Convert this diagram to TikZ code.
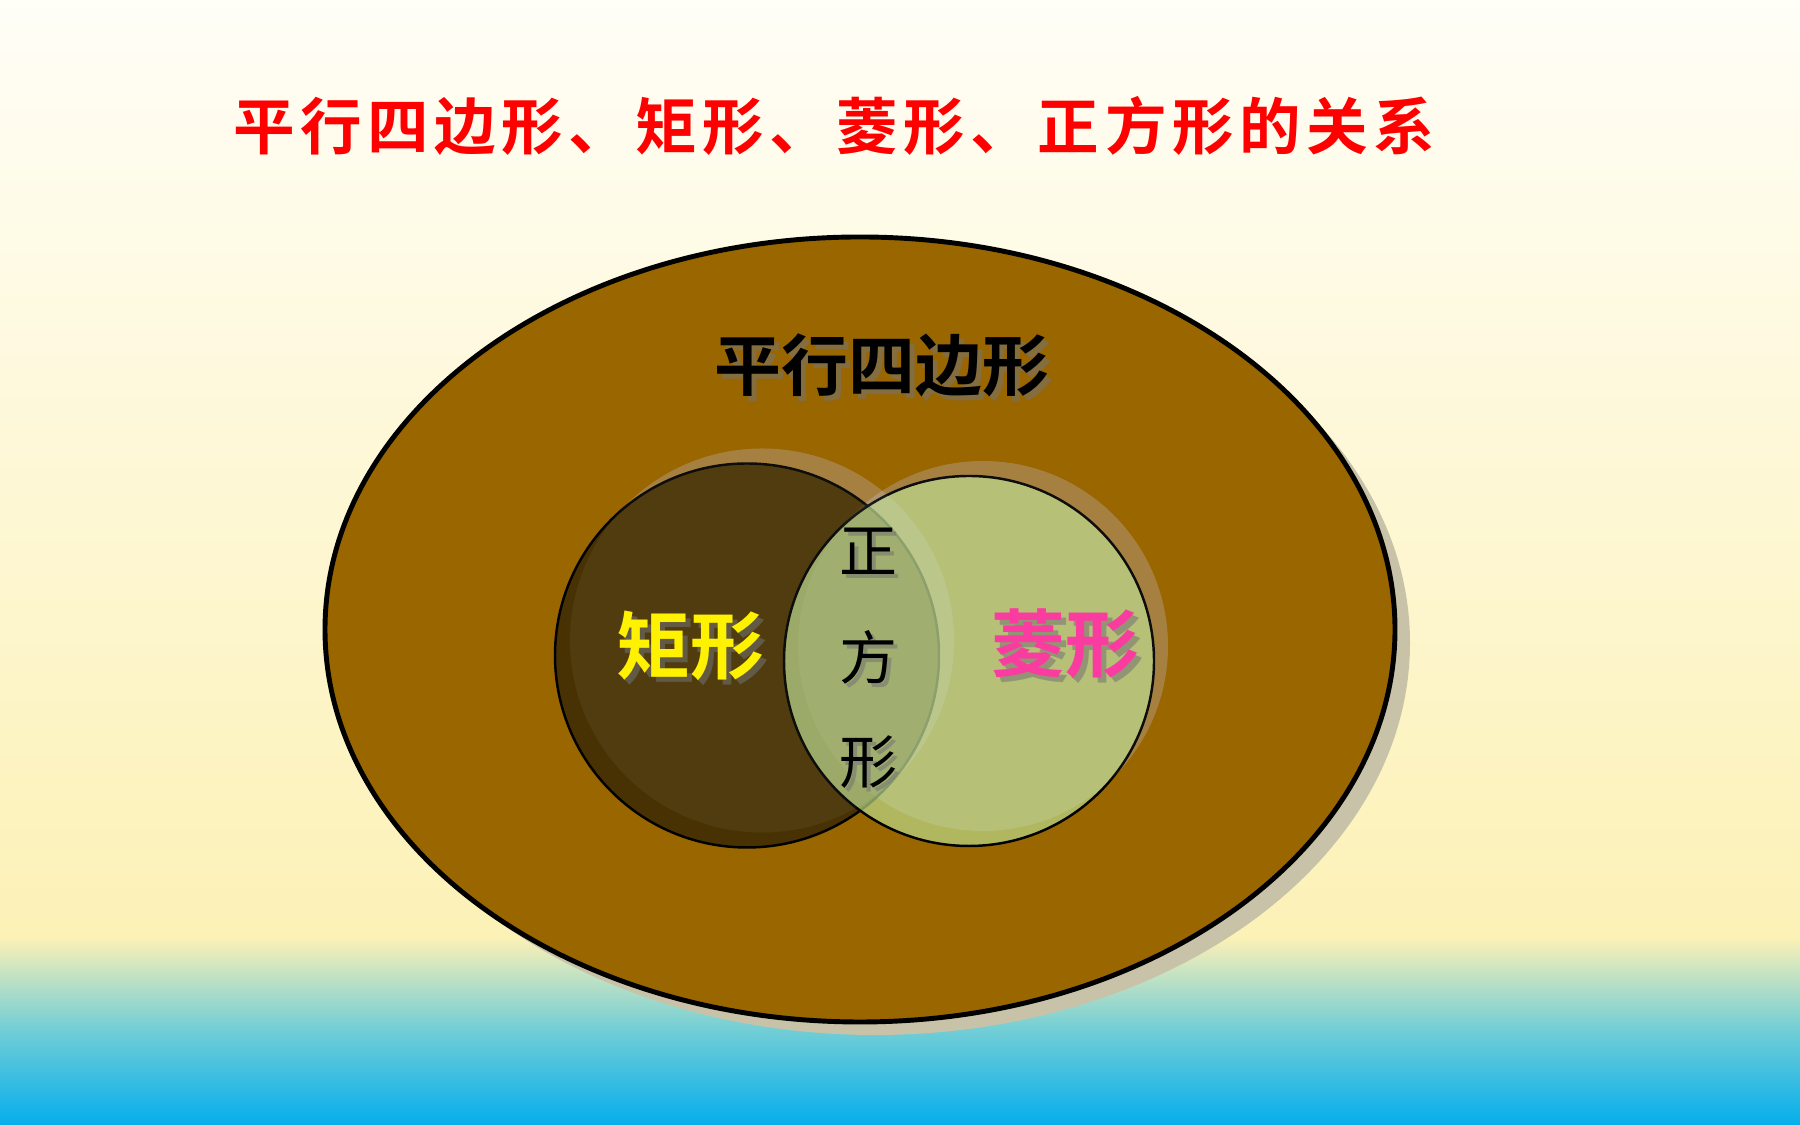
\documentclass[tikz,border=0pt]{standalone}
\usepackage{fontspec}
\newfontfamily\cjk{Noto Sans CJK SC}[BoldFont={Noto Sans CJK SC Bold}]

\definecolor{bgtop}{RGB}{255,254,247}
\definecolor{bgmid}{RGB}{252,241,182}
\definecolor{bgsea}{RGB}{112,205,214}
\definecolor{bgbottom}{RGB}{5,174,236}
\definecolor{pgramcolor}{RGB}{153,102,0}
\definecolor{rectcolor}{RGB}{72,50,4}
\definecolor{rhombcolor}{RGB}{188,222,140}
\definecolor{halocolor}{RGB}{190,195,250}
\definecolor{shadowcolor}{RGB}{200,195,168}
\definecolor{titlecolor}{RGB}{255,0,0}
\definecolor{pinkcolor}{RGB}{250,60,160}

\begin{document}
\begin{tikzpicture}[x=0.01cm,y=0.01cm,
    word/.style={inner sep=0pt, font=\cjk\bfseries},
    wordshadow/.style={word, text=black!55, text opacity=0.55}]
        % Background
        \useasboundingbox (0,0) rectangle (1800,1125);
        \shade[top color=bgtop, bottom color=bgmid] (0,187) rectangle (1800,1125);
        \shade[top color=bgmid, bottom color=bgbottom, middle color=bgsea] (0,0) rectangle (1800,188);

        % Title
        \node[word, text=titlecolor, font=\cjk\bfseries\fontsize{17.5pt}{17.5pt}\selectfont\addfontfeature{LetterSpace=9}] (title) at (834,999) {平行四边形、矩形、菱形、正方形的关系};

        % Parallelogram ellipse with its shadow
        \fill[shadowcolor] (875,482) ellipse [x radius=535, y radius=392];
        \draw[line width=1.4pt, fill=pgramcolor] (860,495.5) ellipse [x radius=535, y radius=392.5];

        % Soft rims behind the two circles
        \fill[halocolor, opacity=0.22] (762,484.5) circle (192);
        \fill[halocolor, opacity=0.22] (983,479) circle (185);

        % Rectangle and rhombus circles
        \draw[line width=0.7pt, fill=rectcolor] (747,469.5) circle (192);
        \draw[line width=0.7pt, fill=rhombcolor, fill opacity=0.68] (969,464) circle (185);

        % Faint rims on top
        \fill[white, opacity=0.05] (762,484.5) circle (192);
        \fill[white, opacity=0.05] (983,479) circle (185);

        % Labels
        \node[wordshadow, font=\cjk\bfseries\fontsize{19pt}{19pt}\selectfont] at (887,755) {平行四边形};
        \node[word, font=\cjk\bfseries\fontsize{19pt}{19pt}\selectfont] (pgram) at (882,760) {平行四边形};

        \node[wordshadow, font=\cjk\bfseries\fontsize{21pt}{21pt}\selectfont] at (695,474) {矩形};
        \node[word, text=yellow, font=\cjk\bfseries\fontsize{21pt}{21pt}\selectfont] (rect) at (690,479) {矩形};

        \node[wordshadow, font=\cjk\bfseries\fontsize{21pt}{21pt}\selectfont] at (1070,476) {菱形};
        \node[word, text=pinkcolor, font=\cjk\bfseries\fontsize{21pt}{21pt}\selectfont] (rhomb) at (1065,481) {菱形};

        % Square, written top to bottom
        \foreach \ch/\y/\nm in {正/574/sqa, 方/468/sqb, 形/363/sqc} {
            \node[wordshadow, font=\cjk\fontsize{16.5pt}{16.5pt}\selectfont] at (872,\y-4) {\ch};
            \node[word, font=\cjk\fontsize{16.5pt}{16.5pt}\selectfont] (\nm) at (868,\y) {\ch};
        }
\end{tikzpicture}
\end{document}
